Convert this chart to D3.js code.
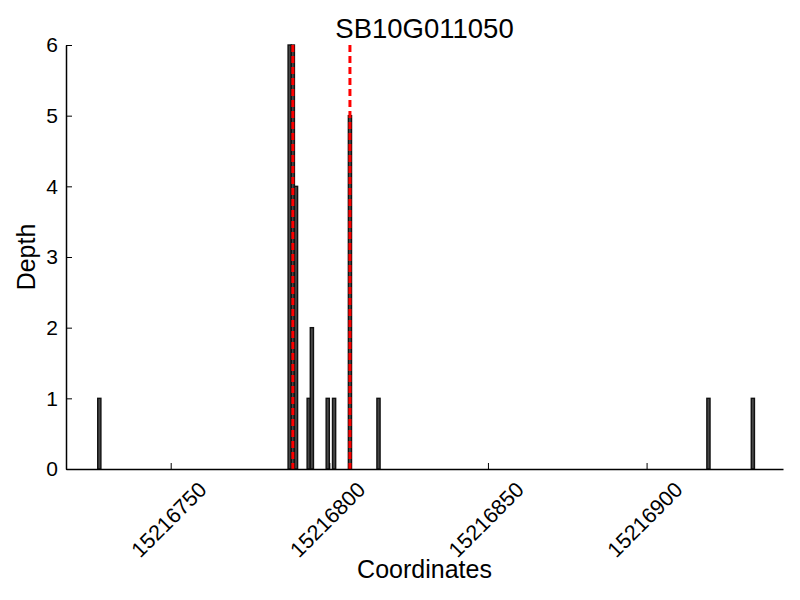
<!DOCTYPE html>
<html>
<head>
<meta charset="utf-8">
<script src="https://cdn.jsdelivr.net/npm/d3@7"></script>
<style>
  body { margin: 0; background: #fff; }
  text { font-family: "Liberation Sans", Arial, sans-serif; fill: #000; }
</style>
</head>
<body>
<div id="chart"></div>
<script>
// read depth per coordinate
const title = "SB10G011050";
const positions = [15216727, 15216787, 15216788, 15216789, 15216793, 15216794,
                   15216799, 15216801, 15216806, 15216815, 15216919, 15216933];
const depths = [1, 6, 6, 4, 1, 2, 1, 1, 5, 1, 1, 1];
const markers = [15216788.5, 15216806.5];
const xTicks = [15216750, 15216800, 15216850, 15216900];
const yTicks = [0, 1, 2, 3, 4, 5, 6];

const margin = { top: 45, right: 17, bottom: 131, left: 66 };
const width = 800 - margin.left - margin.right;
const height = 600 - margin.top - margin.bottom;

const svg = d3.select("#chart")
  .append("svg")
    .attr("width", 800)
    .attr("height", 600)
  .append("g")
    .attr("transform", `translate(${margin.left},${margin.top})`);

const data = positions.map((p, i) => ({ pos: p, depth: depths[i] }));

const x = d3.scaleLinear()
  .domain([d3.min(positions) - 10, d3.max(positions) + 10])
  .range([0, width]);

const y = d3.scaleLinear()
  .domain([0, 6])
  .range([height, 0]);

// bars
svg.selectAll(".bar")
  .data(data)
  .enter()
  .append("rect")
    .attr("class", "bar")
    .attr("x", d => x(d.pos))
    .attr("y", d => y(d.depth))
    .attr("width", d => x(d.pos + 1) - x(d.pos))
    .attr("height", d => height - y(d.depth))
    .attr("fill", "#474747")
    .attr("stroke", "#111")
    .attr("stroke-width", 1.4);

// red dashed markers
svg.selectAll(".marker")
  .data(markers)
  .enter()
  .append("line")
    .attr("x1", d => x(d))
    .attr("x2", d => x(d))
    .attr("y1", 0)
    .attr("y2", height)
    .attr("stroke", "#ff0000")
    .attr("stroke-width", 3)
    .attr("stroke-dasharray", "7,4");

// axes (ticks point inward)
const xAxis = svg.append("g")
  .attr("transform", `translate(0,${height})`)
  .call(d3.axisBottom(x).tickValues(xTicks).tickSize(-6).tickSizeOuter(0).tickFormat(d3.format("d")));
xAxis.select(".domain").attr("stroke-width", 1.5);
xAxis.selectAll("text")
  .attr("font-size", 21.5)
  .attr("text-anchor", "middle")
  .attr("dominant-baseline", "central")
  .attr("y", 0)
  .attr("dy", null)
  .attr("transform", "translate(-2,51) rotate(-45)");

const yAxis = svg.append("g")
  .call(d3.axisLeft(y).tickValues(yTicks).tickSize(-6).tickSizeOuter(0).tickPadding(8).tickFormat(d3.format("d")));
yAxis.select(".domain").attr("stroke-width", 1.5);
yAxis.selectAll("text").attr("font-size", 21);

// labels
svg.append("text")
  .attr("x", width / 2)
  .attr("y", -7)
  .attr("text-anchor", "middle")
  .attr("font-size", 27.5)
  .text(title);

svg.append("text")
  .attr("x", width / 2)
  .attr("y", height + 109)
  .attr("text-anchor", "middle")
  .attr("font-size", 25)
  .text("Coordinates");

svg.append("text")
  .attr("transform", "rotate(-90)")
  .attr("x", -height / 2)
  .attr("y", -31)
  .attr("text-anchor", "middle")
  .attr("font-size", 25)
  .text("Depth");
</script>
</body>
</html>
